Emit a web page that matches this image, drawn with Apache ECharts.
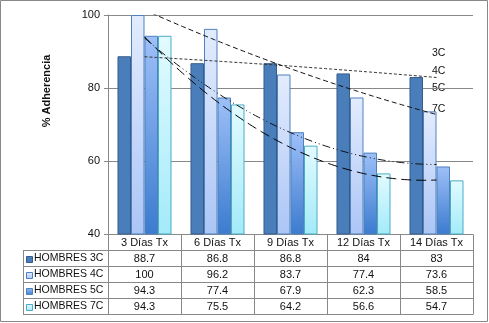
<!DOCTYPE html>
<html>
<head>
<meta charset="utf-8">
<script src="https://cdn.jsdelivr.net/npm/echarts@6/dist/echarts.min.js"></script>
<style>
  html, body { margin: 0; padding: 0; background: #fff; }
  #chart { width: 489px; height: 323px; }
</style>
</head>
<body>
<div id="chart"></div>
<script>
// Adherence (%) by treatment day, men, per cycle group
const categories = ['3 Días Tx', '6 Días Tx', '9 Días Tx', '12 Días Tx', '14 Días Tx'];
const seriesNames = ['HOMBRES 3C', 'HOMBRES 4C', 'HOMBRES 5C', 'HOMBRES 7C'];
const hombres3C = [88.7, 86.8, 86.8, 84, 83];
const hombres4C = [100, 96.2, 83.7, 77.4, 73.6];
const hombres5C = [94.3, 77.4, 67.9, 62.3, 58.5];
const hombres7C = [94.3, 75.5, 64.2, 56.6, 54.7];
const trendLabels = ['3C', '4C', '5C', '7C'];
const yMin = 40, yMax = 100, yStep = 20;

const allSeries = [hombres3C, hombres4C, hombres5C, hombres7C];
const FONT = '"Liberation Sans", Arial, sans-serif';

// plot area / table layout
const G = { left: 108, right: 473, top: 15, bottom: 234 };
const catW = (G.right - G.left) / categories.length;
const tableLeft = 23;
const rowH = 16;

// bar fills
const grad = (a, b) => new echarts.graphic.LinearGradient(0, 0, 0, 1, [
  { offset: 0, color: a }, { offset: 1, color: b }
]);
const fills = [
  '#4a7ebb',
  grad('#e3ecfe', '#abc5f6'),
  grad('#9ec0f8', '#3b7bcf'),
  grad('#e2fbff', '#a3eaf9')
];
const borders = ['#385d8a', '#4f81bd', '#4f81bd', '#4bacc6'];
const trendDash = [[3, 2], [5, 3], [8, 3, 1, 3, 1, 3], [10, 5]];
const trendColor = ['#333', '#111', '#111', '#000'];

// second-order least-squares trend, x = 1..n
function quadTrend(ys) {
  const n = ys.length;
  const xm = (n + 1) / 2;
  const t = ys.map((_, i) => i + 1 - xm);
  const t2m = t.reduce((s, v) => s + v * v, 0) / n;
  const u = t.map(v => v * v - t2m);
  const ym = ys.reduce((s, v) => s + v, 0) / n;
  const c1 = t.reduce((s, v, i) => s + v * ys[i], 0) / t.reduce((s, v) => s + v * v, 0);
  const c2 = u.reduce((s, v, i) => s + v * ys[i], 0) / u.reduce((s, v) => s + v * v, 0);
  const pts = [];
  for (let x = 1; x <= n + 1e-9; x += 0.04) {
    const tt = x - xm;
    pts.push([x, ym + c1 * tt + c2 * (tt * tt - t2m)]);
  }
  return pts;
}

const series = [];
allSeries.forEach((vals, i) => {
  series.push({
    name: seriesNames[i],
    type: 'bar',
    data: vals,
    barGap: '0%',
    barCategoryGap: '26%',
    itemStyle: { color: fills[i], borderColor: borders[i], borderWidth: 1 },
    silent: true
  });
});
allSeries.forEach((vals, i) => {
  series.push({
    name: trendLabels[i],
    type: 'line',
    xAxisIndex: 1,
    data: quadTrend(vals),
    symbol: 'none',
    smooth: false,
    clip: true,
    lineStyle: { color: trendColor[i], width: 1, type: trendDash[i] },
    z: 5,
    silent: true
  });
});

// data table under the plot
const graphics = [];
const lineStyle = { stroke: '#888', lineWidth: 1 };
const crisp = v => Math.round(v) + 0.5;
const tableTop = G.bottom;
const tableBottom = tableTop + rowH * (seriesNames.length + 1);
for (let r = 1; r <= seriesNames.length + 1; r++) {
  const y = crisp(tableTop + r * rowH);
  graphics.push({ type: 'line', shape: { x1: tableLeft, y1: y, x2: G.right, y2: y }, style: lineStyle });
}
graphics.push({ type: 'line', shape: { x1: crisp(tableLeft), y1: crisp(tableTop + rowH), x2: crisp(tableLeft), y2: crisp(tableBottom) }, style: lineStyle });
for (let c = 0; c <= categories.length; c++) {
  const x = crisp(G.left + c * catW);
  graphics.push({ type: 'line', shape: { x1: x, y1: crisp(tableTop), x2: x, y2: crisp(tableBottom) }, style: lineStyle });
}
seriesNames.forEach((name, r) => {
  const cy = tableTop + rowH * (r + 1) + rowH / 2 + 0.5;
  graphics.push({
    type: 'rect',
    shape: { x: 26.5, y: Math.round(cy - 3) + 0.5, width: 6, height: 6 },
    style: { fill: fills[r], stroke: borders[r], lineWidth: 1 }
  });
  graphics.push({
    type: 'text', x: 34, y: cy,
    style: { text: name, font: '10.5px ' + FONT, fill: '#111', textVerticalAlign: 'middle', textAlign: 'left' }
  });
  allSeries[r].forEach((v, c) => {
    graphics.push({
      type: 'text', x: G.left + (c + 0.5) * catW, y: cy,
      style: { text: String(v), font: '11px ' + FONT, fill: '#111', textAlign: 'center', textVerticalAlign: 'middle' }
    });
  });
});

// trend labels
const labelY = [53, 71, 88, 109];
trendLabels.forEach((t, i) => {
  graphics.push({
    type: 'text', x: 432, y: labelY[i],
    style: { text: t, font: '10.5px ' + FONT, fill: '#111', textVerticalAlign: 'middle' }
  });
});

// y axis title
graphics.push({
  type: 'text', x: 47, y: 91, rotation: Math.PI / 2,
  style: { text: '% Adherencia', font: 'bold 11px ' + FONT, fill: '#111', textAlign: 'center', textVerticalAlign: 'middle' }
});

// outer frame
graphics.push({
  type: 'rect', shape: { x: 0.5, y: 0.5, width: 487, height: 321 },
  style: { fill: 'none', stroke: '#888', lineWidth: 1 }, z: 100
});

const chart = echarts.init(document.getElementById('chart'), null, { renderer: 'canvas' });
chart.setOption({
  animation: false,
  backgroundColor: '#fff',
  grid: { left: G.left, right: 489 - G.right, top: G.top, bottom: 323 - G.bottom, containLabel: false },
  xAxis: [
    {
      type: 'category',
      data: categories,
      axisLine: { lineStyle: { color: '#888' } },
      axisTick: { show: false },
      axisLabel: { margin: 3, fontSize: 11, fontFamily: FONT, color: '#111', interval: 0 }
    },
    {
      type: 'value', min: 0.5, max: categories.length + 0.5, show: false
    }
  ],
  yAxis: {
    type: 'value', min: yMin, max: yMax, interval: yStep,
    axisLine: { show: true, lineStyle: { color: '#888' } },
    axisTick: { show: true, length: 4, lineStyle: { color: '#888' } },
    axisLabel: { margin: 8, fontSize: 11, fontFamily: FONT, color: '#111' },
    splitLine: { lineStyle: { color: '#888', width: 1 } }
  },
  series: series,
  graphic: graphics
});
</script>
</body>
</html>
